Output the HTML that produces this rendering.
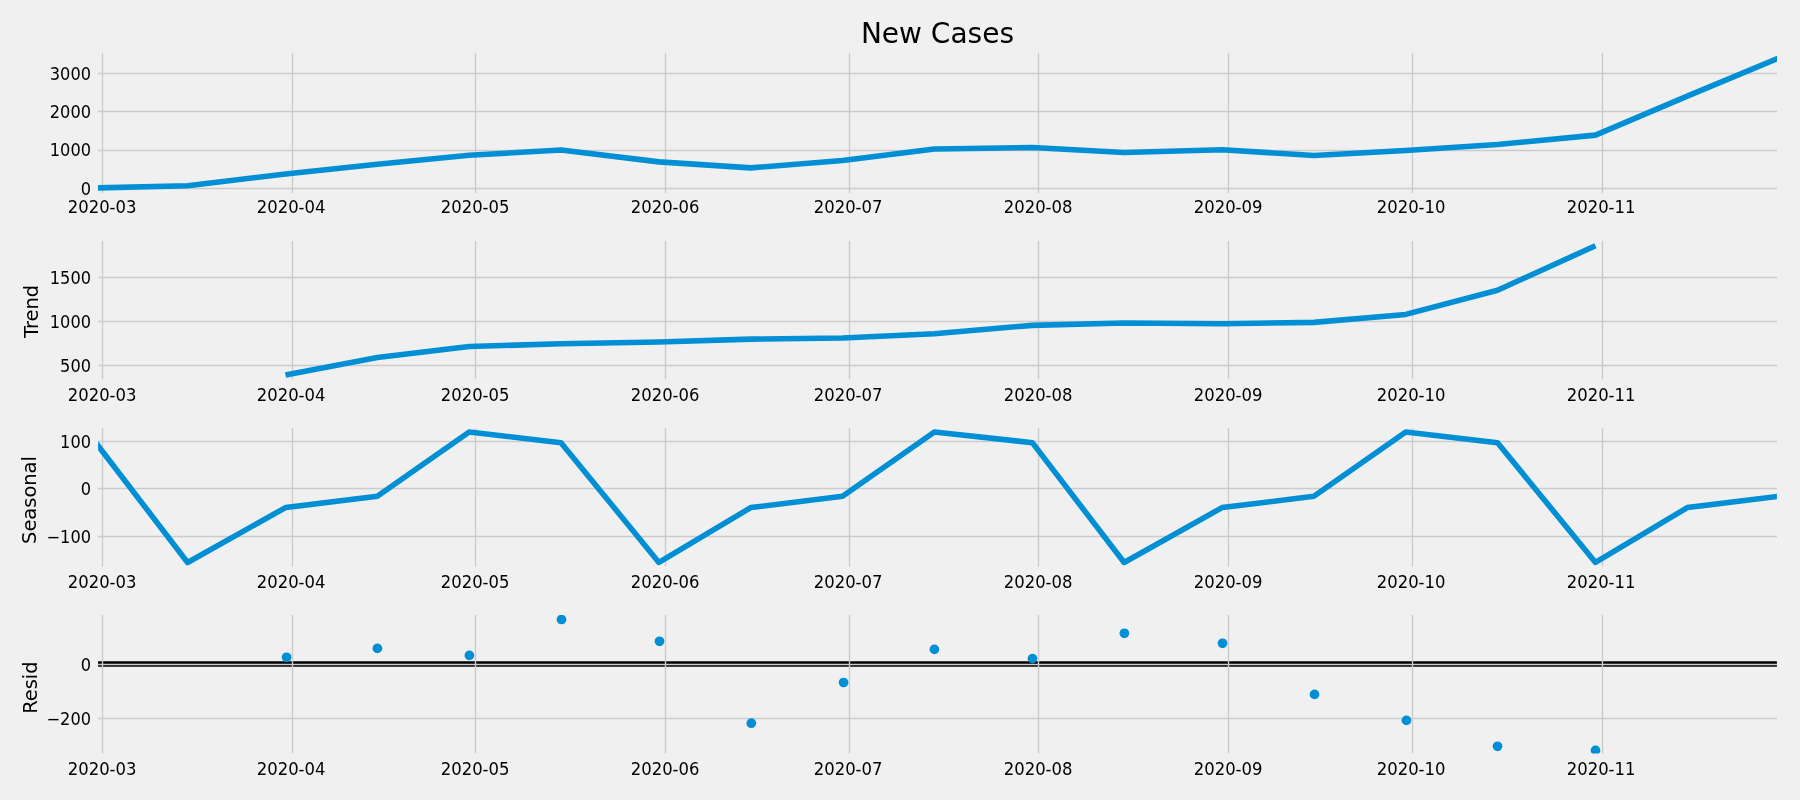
<!DOCTYPE html><html><head><meta charset="utf-8"><title>New Cases</title><style>html,body{margin:0;padding:0;background:#f0f0f0;overflow:hidden}svg{display:block;will-change:transform}text{font-family:"DejaVu Sans","Liberation Sans",sans-serif;fill:#000}</style></head><body>
<svg width="1800" height="800" viewBox="0 0 1800 800">
<rect width="1800" height="800" fill="#f0f0f0"/>
<defs>
<clipPath id="c0"><rect x="98.08" y="53.07" width="1678.83" height="139.83"/></clipPath>
<clipPath id="c1"><rect x="98.08" y="241.10" width="1678.83" height="138.20"/></clipPath>
<clipPath id="c2"><rect x="98.08" y="428.07" width="1678.83" height="138.33"/></clipPath>
<clipPath id="c3"><rect x="98.08" y="615.07" width="1678.83" height="138.53"/></clipPath>
</defs>
<g clip-path="url(#c0)">
<line x1="102.50" x2="102.50" y1="51.34" y2="194.34" stroke="#cbcbcb" stroke-width="1.389"/>
<line x1="292.50" x2="292.50" y1="51.34" y2="194.34" stroke="#cbcbcb" stroke-width="1.389"/>
<line x1="475.50" x2="475.50" y1="51.34" y2="194.34" stroke="#cbcbcb" stroke-width="1.389"/>
<line x1="665.50" x2="665.50" y1="51.34" y2="194.34" stroke="#cbcbcb" stroke-width="1.389"/>
<line x1="849.50" x2="849.50" y1="51.34" y2="194.34" stroke="#cbcbcb" stroke-width="1.389"/>
<line x1="1038.50" x2="1038.50" y1="51.34" y2="194.34" stroke="#cbcbcb" stroke-width="1.389"/>
<line x1="1228.50" x2="1228.50" y1="51.34" y2="194.34" stroke="#cbcbcb" stroke-width="1.389"/>
<line x1="1412.50" x2="1412.50" y1="51.34" y2="194.34" stroke="#cbcbcb" stroke-width="1.389"/>
<line x1="1602.50" x2="1602.50" y1="51.34" y2="194.34" stroke="#cbcbcb" stroke-width="1.389"/>
<line x1="95.76" x2="1779.12" y1="188.50" y2="188.50" stroke="#cbcbcb" stroke-width="1.389"/>
<line x1="95.76" x2="1779.12" y1="150.50" y2="150.50" stroke="#cbcbcb" stroke-width="1.389"/>
<line x1="95.76" x2="1779.12" y1="111.50" y2="111.50" stroke="#cbcbcb" stroke-width="1.389"/>
<line x1="95.76" x2="1779.12" y1="73.50" y2="73.50" stroke="#cbcbcb" stroke-width="1.389"/>
<polyline fill="none" stroke="#008fd5" stroke-width="5.556" stroke-linecap="butt" stroke-linejoin="round" points="95.76,187.90 187.58,185.75 285.52,174.04 377.34,164.22 469.16,155.33 560.98,149.93 658.92,161.88 750.74,167.86 842.56,160.57 934.38,148.96 1032.32,147.46 1124.14,152.48 1222.08,149.80 1313.90,155.45 1405.72,150.54 1497.54,144.45 1595.48,135.14 1687.30,96.12 1779.12,57.77"/>
</g>
<text transform="translate(91 195) scale(1 1.06)" text-anchor="end" font-size="16.2">0</text>
<text transform="translate(91 156) scale(1 1.06)" text-anchor="end" font-size="16.2">1000</text>
<text transform="translate(91 118) scale(1 1.06)" text-anchor="end" font-size="16.2">2000</text>
<text transform="translate(91 80) scale(1 1.06)" text-anchor="end" font-size="16.2">3000</text>
<text transform="translate(102.10 213) scale(1 1.06)" text-anchor="middle" font-size="16.45">2020-03</text>
<text transform="translate(291.10 213) scale(1 1.06)" text-anchor="middle" font-size="16.45">2020-04</text>
<text transform="translate(475.10 213) scale(1 1.06)" text-anchor="middle" font-size="16.45">2020-05</text>
<text transform="translate(665.10 213) scale(1 1.06)" text-anchor="middle" font-size="16.45">2020-06</text>
<text transform="translate(848.10 213) scale(1 1.06)" text-anchor="middle" font-size="16.45">2020-07</text>
<text transform="translate(1038.10 213) scale(1 1.06)" text-anchor="middle" font-size="16.45">2020-08</text>
<text transform="translate(1228.10 213) scale(1 1.06)" text-anchor="middle" font-size="16.45">2020-09</text>
<text transform="translate(1411.10 213) scale(1 1.06)" text-anchor="middle" font-size="16.45">2020-10</text>
<text transform="translate(1601.10 213) scale(1 1.06)" text-anchor="middle" font-size="16.45">2020-11</text>
<g clip-path="url(#c1)">
<line x1="102.50" x2="102.50" y1="238.50" y2="381.50" stroke="#cbcbcb" stroke-width="1.389"/>
<line x1="292.50" x2="292.50" y1="238.50" y2="381.50" stroke="#cbcbcb" stroke-width="1.389"/>
<line x1="475.50" x2="475.50" y1="238.50" y2="381.50" stroke="#cbcbcb" stroke-width="1.389"/>
<line x1="665.50" x2="665.50" y1="238.50" y2="381.50" stroke="#cbcbcb" stroke-width="1.389"/>
<line x1="849.50" x2="849.50" y1="238.50" y2="381.50" stroke="#cbcbcb" stroke-width="1.389"/>
<line x1="1038.50" x2="1038.50" y1="238.50" y2="381.50" stroke="#cbcbcb" stroke-width="1.389"/>
<line x1="1228.50" x2="1228.50" y1="238.50" y2="381.50" stroke="#cbcbcb" stroke-width="1.389"/>
<line x1="1412.50" x2="1412.50" y1="238.50" y2="381.50" stroke="#cbcbcb" stroke-width="1.389"/>
<line x1="1602.50" x2="1602.50" y1="238.50" y2="381.50" stroke="#cbcbcb" stroke-width="1.389"/>
<line x1="95.76" x2="1779.12" y1="365.50" y2="365.50" stroke="#cbcbcb" stroke-width="1.389"/>
<line x1="95.76" x2="1779.12" y1="321.50" y2="321.50" stroke="#cbcbcb" stroke-width="1.389"/>
<line x1="95.76" x2="1779.12" y1="277.50" y2="277.50" stroke="#cbcbcb" stroke-width="1.389"/>
<polyline fill="none" stroke="#008fd5" stroke-width="5.556" stroke-linecap="butt" stroke-linejoin="round" points="285.52,374.95 377.34,357.51 469.16,346.55 560.98,343.72 658.92,342.04 750.74,339.11 842.56,337.98 934.38,333.66 1032.32,325.37 1124.14,323.02 1222.08,323.75 1313.90,322.37 1405.72,314.41 1497.54,290.19 1595.48,245.76"/>
</g>
<text transform="translate(91 372) scale(1 1.06)" text-anchor="end" font-size="16.2">500</text>
<text transform="translate(91 328) scale(1 1.06)" text-anchor="end" font-size="16.2">1000</text>
<text transform="translate(91 284) scale(1 1.06)" text-anchor="end" font-size="16.2">1500</text>
<text transform="translate(102.10 401) scale(1 1.06)" text-anchor="middle" font-size="16.45">2020-03</text>
<text transform="translate(291.10 401) scale(1 1.06)" text-anchor="middle" font-size="16.45">2020-04</text>
<text transform="translate(475.10 401) scale(1 1.06)" text-anchor="middle" font-size="16.45">2020-05</text>
<text transform="translate(665.10 401) scale(1 1.06)" text-anchor="middle" font-size="16.45">2020-06</text>
<text transform="translate(848.10 401) scale(1 1.06)" text-anchor="middle" font-size="16.45">2020-07</text>
<text transform="translate(1038.10 401) scale(1 1.06)" text-anchor="middle" font-size="16.45">2020-08</text>
<text transform="translate(1228.10 401) scale(1 1.06)" text-anchor="middle" font-size="16.45">2020-09</text>
<text transform="translate(1411.10 401) scale(1 1.06)" text-anchor="middle" font-size="16.45">2020-10</text>
<text transform="translate(1601.10 401) scale(1 1.06)" text-anchor="middle" font-size="16.45">2020-11</text>
<text transform="translate(38.2 311.50) rotate(-90)" text-anchor="middle" font-size="19.44">Trend</text>
<g clip-path="url(#c2)">
<line x1="102.50" x2="102.50" y1="425.67" y2="568.67" stroke="#cbcbcb" stroke-width="1.389"/>
<line x1="292.50" x2="292.50" y1="425.67" y2="568.67" stroke="#cbcbcb" stroke-width="1.389"/>
<line x1="475.50" x2="475.50" y1="425.67" y2="568.67" stroke="#cbcbcb" stroke-width="1.389"/>
<line x1="665.50" x2="665.50" y1="425.67" y2="568.67" stroke="#cbcbcb" stroke-width="1.389"/>
<line x1="849.50" x2="849.50" y1="425.67" y2="568.67" stroke="#cbcbcb" stroke-width="1.389"/>
<line x1="1038.50" x2="1038.50" y1="425.67" y2="568.67" stroke="#cbcbcb" stroke-width="1.389"/>
<line x1="1228.50" x2="1228.50" y1="425.67" y2="568.67" stroke="#cbcbcb" stroke-width="1.389"/>
<line x1="1412.50" x2="1412.50" y1="425.67" y2="568.67" stroke="#cbcbcb" stroke-width="1.389"/>
<line x1="1602.50" x2="1602.50" y1="425.67" y2="568.67" stroke="#cbcbcb" stroke-width="1.389"/>
<line x1="95.76" x2="1779.12" y1="536.50" y2="536.50" stroke="#cbcbcb" stroke-width="1.389"/>
<line x1="95.76" x2="1779.12" y1="488.50" y2="488.50" stroke="#cbcbcb" stroke-width="1.389"/>
<line x1="95.76" x2="1779.12" y1="441.50" y2="441.50" stroke="#cbcbcb" stroke-width="1.389"/>
<polyline fill="none" stroke="#008fd5" stroke-width="5.556" stroke-linecap="butt" stroke-linejoin="round" points="95.76,442.68 187.58,562.47 285.52,507.61 377.34,496.30 469.16,431.99 560.98,442.68 658.92,562.47 750.74,507.61 842.56,496.30 934.38,431.99 1032.32,442.68 1124.14,562.47 1222.08,507.61 1313.90,496.30 1405.72,431.99 1497.54,442.68 1595.48,562.47 1687.30,507.61 1779.12,496.30"/>
</g>
<text transform="translate(91 543) scale(1 1.06)" text-anchor="end" font-size="16.2">−100</text>
<text transform="translate(91 495) scale(1 1.06)" text-anchor="end" font-size="16.2">0</text>
<text transform="translate(91 448) scale(1 1.06)" text-anchor="end" font-size="16.2">100</text>
<text transform="translate(102.10 588) scale(1 1.06)" text-anchor="middle" font-size="16.45">2020-03</text>
<text transform="translate(291.10 588) scale(1 1.06)" text-anchor="middle" font-size="16.45">2020-04</text>
<text transform="translate(475.10 588) scale(1 1.06)" text-anchor="middle" font-size="16.45">2020-05</text>
<text transform="translate(665.10 588) scale(1 1.06)" text-anchor="middle" font-size="16.45">2020-06</text>
<text transform="translate(848.10 588) scale(1 1.06)" text-anchor="middle" font-size="16.45">2020-07</text>
<text transform="translate(1038.10 588) scale(1 1.06)" text-anchor="middle" font-size="16.45">2020-08</text>
<text transform="translate(1228.10 588) scale(1 1.06)" text-anchor="middle" font-size="16.45">2020-09</text>
<text transform="translate(1411.10 588) scale(1 1.06)" text-anchor="middle" font-size="16.45">2020-10</text>
<text transform="translate(1601.10 588) scale(1 1.06)" text-anchor="middle" font-size="16.45">2020-11</text>
<text transform="translate(36.2 500.02) rotate(-90)" text-anchor="middle" font-size="19.44">Seasonal</text>
<g clip-path="url(#c3)">
<line x1="95.76" x2="1779.12" y1="664" y2="664" stroke="#000" stroke-width="5.56"/>
<line x1="102.50" x2="102.50" y1="612.84" y2="755.84" stroke="#cbcbcb" stroke-width="1.389"/>
<line x1="292.50" x2="292.50" y1="612.84" y2="755.84" stroke="#cbcbcb" stroke-width="1.389"/>
<line x1="475.50" x2="475.50" y1="612.84" y2="755.84" stroke="#cbcbcb" stroke-width="1.389"/>
<line x1="665.50" x2="665.50" y1="612.84" y2="755.84" stroke="#cbcbcb" stroke-width="1.389"/>
<line x1="849.50" x2="849.50" y1="612.84" y2="755.84" stroke="#cbcbcb" stroke-width="1.389"/>
<line x1="1038.50" x2="1038.50" y1="612.84" y2="755.84" stroke="#cbcbcb" stroke-width="1.389"/>
<line x1="1228.50" x2="1228.50" y1="612.84" y2="755.84" stroke="#cbcbcb" stroke-width="1.389"/>
<line x1="1412.50" x2="1412.50" y1="612.84" y2="755.84" stroke="#cbcbcb" stroke-width="1.389"/>
<line x1="1602.50" x2="1602.50" y1="612.84" y2="755.84" stroke="#cbcbcb" stroke-width="1.389"/>
<line x1="95.76" x2="1779.12" y1="718.50" y2="718.50" stroke="#cbcbcb" stroke-width="1.389"/>
<line x1="95.76" x2="1779.12" y1="664.50" y2="664.50" stroke="#cbcbcb" stroke-width="1.389"/>
<circle cx="286.60" cy="657.30" r="4.86" fill="#008fd5"/>
<circle cx="377.40" cy="648.40" r="4.86" fill="#008fd5"/>
<circle cx="469.40" cy="655.40" r="4.86" fill="#008fd5"/>
<circle cx="561.50" cy="619.50" r="4.86" fill="#008fd5"/>
<circle cx="659.50" cy="641.30" r="4.86" fill="#008fd5"/>
<circle cx="751.30" cy="723.20" r="4.86" fill="#008fd5"/>
<circle cx="843.60" cy="682.50" r="4.86" fill="#008fd5"/>
<circle cx="934.40" cy="649.40" r="4.86" fill="#008fd5"/>
<circle cx="1032.50" cy="658.60" r="4.86" fill="#008fd5"/>
<circle cx="1124.40" cy="633.30" r="4.86" fill="#008fd5"/>
<circle cx="1222.50" cy="643.30" r="4.86" fill="#008fd5"/>
<circle cx="1314.50" cy="694.40" r="4.86" fill="#008fd5"/>
<circle cx="1406.40" cy="720.40" r="4.86" fill="#008fd5"/>
<circle cx="1497.50" cy="746.30" r="4.86" fill="#008fd5"/>
<circle cx="1595.50" cy="750.40" r="4.86" fill="#008fd5"/>
</g>
<text transform="translate(91 725) scale(1 1.06)" text-anchor="end" font-size="16.2">−200</text>
<text transform="translate(91 671) scale(1 1.06)" text-anchor="end" font-size="16.2">0</text>
<text transform="translate(102.10 775) scale(1 1.06)" text-anchor="middle" font-size="16.45">2020-03</text>
<text transform="translate(291.10 775) scale(1 1.06)" text-anchor="middle" font-size="16.45">2020-04</text>
<text transform="translate(475.10 775) scale(1 1.06)" text-anchor="middle" font-size="16.45">2020-05</text>
<text transform="translate(665.10 775) scale(1 1.06)" text-anchor="middle" font-size="16.45">2020-06</text>
<text transform="translate(848.10 775) scale(1 1.06)" text-anchor="middle" font-size="16.45">2020-07</text>
<text transform="translate(1038.10 775) scale(1 1.06)" text-anchor="middle" font-size="16.45">2020-08</text>
<text transform="translate(1228.10 775) scale(1 1.06)" text-anchor="middle" font-size="16.45">2020-09</text>
<text transform="translate(1411.10 775) scale(1 1.06)" text-anchor="middle" font-size="16.45">2020-10</text>
<text transform="translate(1601.10 775) scale(1 1.06)" text-anchor="middle" font-size="16.45">2020-11</text>
<text transform="translate(37.0 687.64) rotate(-90)" text-anchor="middle" font-size="19.44">Resid</text>
<text x="937.44" y="42.8" text-anchor="middle" font-size="28.0">New Cases</text>
</svg></body></html>
